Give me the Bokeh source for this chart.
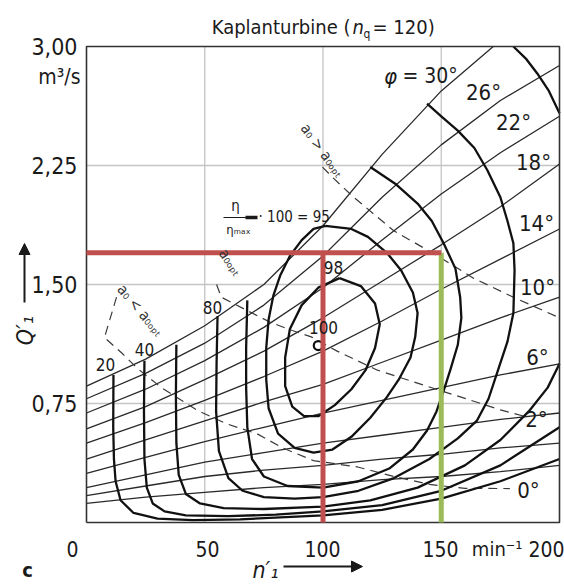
import math
from bokeh.plotting import figure
from bokeh.models import Label, Arrow, NormalHead, Range1d
from bokeh.embed import file_html
from bokeh.resources import INLINE

FONT = "DejaVu Sans Condensed"

# ---------------- data ----------------
N_MIN, N_MAX = 0, 200
Q_MIN, Q_MAX = 0.0, 3.0
N_GRID = [0, 25, 50, 75, 100, 125, 150, 175, 200]

# blade-angle lines phi (thin)
PHI30_N = [0, 25, 50, 75, 100, 125, 150, 172]
PHI30_Q = [0.86, 1.03, 1.24, 1.50, 1.87, 2.32, 2.72, 3.00]
PHI26_Q = [0.78, 0.94, 1.13, 1.37, 1.68, 2.05, 2.38, 2.66, 2.88]
PHI22_Q = [0.69, 0.84, 1.02, 1.23, 1.48, 1.78, 2.07, 2.33, 2.56]
PHI18_Q = [0.59, 0.73, 0.90, 1.08, 1.29, 1.52, 1.75, 1.99, 2.26]
PHI14_Q = [0.50, 0.63, 0.77, 0.92, 1.08, 1.27, 1.47, 1.66, 1.85]
PHI10_Q = [0.40, 0.52, 0.64, 0.76, 0.87, 1.01, 1.15, 1.29, 1.42]
PHI6_Q = [0.31, 0.41, 0.51, 0.60, 0.69, 0.77, 0.85, 0.93, 1.00]
PHI2_Q = [0.22, 0.30, 0.38, 0.44, 0.50, 0.55, 0.60, 0.65, 0.69]
PHI0_Q = [0.17, 0.23, 0.29, 0.33, 0.36, 0.40, 0.43, 0.47, 0.50]
PHIM_Q = [0.12, 0.16, 0.19, 0.22, 0.24, 0.27, 0.29, 0.32, 0.36]

# relative efficiency contours (thick)
ETA98_N = [107, 116, 122, 124, 122, 118, 112, 105, 98, 92, 87, 84, 84, 86, 91, 98, 107]
ETA98_Q = [1.54, 1.49, 1.38, 1.25, 1.10, 0.96, 0.84, 0.74, 0.67, 0.67, 0.73, 0.86, 1.04, 1.22, 1.37, 1.48, 1.54]

ETA95_N = [101, 112, 119, 127, 133, 138, 140, 139, 137, 132, 127, 120, 112, 104, 96, 88, 81, 77, 76, 76, 77, 79, 82, 86, 91, 96, 101]
ETA95_Q = [1.87, 1.85, 1.80, 1.70, 1.59, 1.45, 1.32, 1.17, 1.04, 0.90, 0.79, 0.66, 0.54, 0.46, 0.44, 0.47, 0.56, 0.72, 0.90, 1.10, 1.28, 1.43, 1.56, 1.68, 1.78, 1.85, 1.87]

ETA90_N = [68, 67.5, 67.5, 68, 70, 75, 85, 100, 115, 128, 138, 144, 148, 151, 154, 157, 158.5, 158, 156, 151, 146, 140, 131, 120]
ETA90_Q = [1.40, 1.10, 0.85, 0.60, 0.40, 0.29, 0.23, 0.22, 0.26, 0.34, 0.46, 0.58, 0.70, 0.83, 0.97, 1.12, 1.29, 1.42, 1.60, 1.76, 1.90, 2.01, 2.13, 2.24]

ETA80_N = [55.4, 55, 54.8, 56, 60, 66, 75, 88, 100, 115, 130, 145, 157, 165, 170, 174, 178, 180.5, 181, 180.5, 178, 175, 169.5, 164, 157, 150, 144]
ETA80_Q = [1.30, 1.00, 0.70, 0.45, 0.28, 0.20, 0.16, 0.15, 0.16, 0.20, 0.28, 0.40, 0.53, 0.64, 0.78, 0.96, 1.14, 1.32, 1.59, 1.76, 1.90, 2.05, 2.22, 2.36, 2.47, 2.56, 2.64]

ETA60_N = [38, 37.8, 38, 39, 42, 48, 58, 75, 100, 120, 140, 160, 175, 187, 195, 200]
ETA60_Q = [1.12, 0.80, 0.50, 0.30, 0.18, 0.12, 0.09, 0.085, 0.10, 0.14, 0.22, 0.36, 0.52, 0.70, 0.85, 1.00]
ETA60B_N = [180.5, 186, 190.6, 195.5, 200]
ETA60B_Q = [3.00, 2.92, 2.83, 2.72, 2.58]

ETA40_N = [24.5, 24.3, 24.5, 25.5, 28, 33, 42, 60, 80, 100, 125, 150, 175, 200]
ETA40_Q = [1.02, 0.70, 0.40, 0.22, 0.12, 0.07, 0.045, 0.04, 0.05, 0.07, 0.11, 0.20, 0.36, 0.60]

ETA20_N = [11.4, 11.3, 11.6, 12.3, 14.4, 19.9, 30, 45, 65, 100, 125, 150, 175, 200]
ETA20_Q = [0.93, 0.60, 0.40, 0.26, 0.14, 0.06, 0.025, 0.015, 0.02, 0.045, 0.08, 0.15, 0.26, 0.40]

ETA_MAX_N = [98]
ETA_MAX_Q = [1.115]

# guide-vane opening lines (dashed)
A0_GT_N = [99.8, 104.4, 113, 129.8, 149.6, 163.6, 180.5, 200]
A0_GT_Q = [2.24, 2.17, 2.05, 1.84, 1.67, 1.54, 1.42, 1.29]
A0_OPT_N = [55, 57, 70, 78, 87, 95, 106, 123, 150, 175, 185]
A0_OPT_Q = [1.50, 1.42, 1.32, 1.26, 1.21, 1.17, 1.08, 0.96, 0.83, 0.71, 0.67]
A0_LT_N = [12.7, 7.6, 14.8, 21.6, 31.7, 47, 59.6, 72, 83, 96, 114.6, 130, 145, 160, 179]
A0_LT_Q = [1.42, 1.166, 1.07, 0.97, 0.85, 0.705, 0.62, 0.56, 0.47, 0.39, 0.35, 0.29, 0.24, 0.215, 0.214]

# operating point lines
OP_Q = 1.70
OP_N_RED = 100
OP_N_GREEN = 150

X_TICKS = [0, 50, 100, 150, 200]
X_TICK_LABELS = ["0", "50", "100", "150", "200"]
Y_TICKS = [0.75, 1.50, 2.25, 3.00]
Y_TICK_LABELS = ["0,75", "1,50", "2,25", "3,00"]
PHI_LABELS = ["26°", "22°", "18°", "14°", "10°", "6°", "2°", "0°"]
ETA_LABELS = ["20", "40", "80", "98", "100"]


# page pixel -> data helpers (used only to place texts)
def PX(x):
    return (x - 86) / 2.365


def PY(y):
    return (522 - y) / 158.67


# ---------------- figure ----------------
p = figure(width=564, height=586, x_range=Range1d(PX(0), PX(564)), y_range=Range1d(PY(586), PY(0)),
           output_backend="svg", toolbar_location=None, title=None,
           min_border_left=0, min_border_right=0, min_border_top=0, min_border_bottom=0)
p.xaxis.visible = False
p.yaxis.visible = False
p.xgrid.visible = False
p.ygrid.visible = False
p.outline_line_color = None
p.background_fill_color = "white"
p.border_fill_color = "white"

THIN = "#2a2a2a"
THICK = "#111111"
TXT = "#1a1a1a"

# grid
gx = [t for t in X_TICKS if N_MIN < t < N_MAX]
gy = [t for t in Y_TICKS if Q_MIN < t < Q_MAX]
p.multi_line([[t, t] for t in gx] + [[N_MIN, N_MAX] for _ in gy],
             [[Q_MIN, Q_MAX] for _ in gx] + [[t, t] for t in gy],
             line_color="#c4c4c4", line_width=1.3)

# phi lines
phi_sets = [(PHI30_N, PHI30_Q), (N_GRID, PHI26_Q), (N_GRID, PHI22_Q), (N_GRID, PHI18_Q),
            (N_GRID, PHI14_Q), (N_GRID, PHI10_Q), (N_GRID, PHI6_Q), (N_GRID, PHI2_Q),
            (N_GRID, PHI0_Q), (N_GRID, PHIM_Q)]
p.multi_line([s[0] for s in phi_sets], [s[1] for s in phi_sets], line_color=THIN, line_width=1.3)

# dashed opening lines
p.multi_line([A0_GT_N, A0_OPT_N, A0_LT_N], [A0_GT_Q, A0_OPT_Q, A0_LT_Q],
             line_color="#3a3a3a", line_width=1.2, line_dash="9 6")

# efficiency contours
eta_sets = [(ETA98_N, ETA98_Q), (ETA95_N, ETA95_Q), (ETA90_N, ETA90_Q), (ETA80_N, ETA80_Q),
            (ETA60_N, ETA60_Q), (ETA60B_N, ETA60B_Q), (ETA40_N, ETA40_Q), (ETA20_N, ETA20_Q)]
p.multi_line([s[0] for s in eta_sets], [s[1] for s in eta_sets], line_color=THICK,
             line_width=2.3, line_join="round")
p.scatter(ETA_MAX_N, ETA_MAX_Q, marker="circle", size=9, fill_color=None,
          line_color=THICK, line_width=2.2)

# plot frame
p.line([N_MIN, N_MAX, N_MAX, N_MIN, N_MIN], [Q_MIN, Q_MIN, Q_MAX, Q_MAX, Q_MIN],
       line_color="#333333", line_width=1.6)

# operating point lines
p.line([OP_N_GREEN, OP_N_GREEN], [Q_MIN, OP_Q], line_color="#9bbb59", line_width=5)
p.line([N_MIN, OP_N_GREEN], [OP_Q, OP_Q], line_color="#c0504d", line_width=5)
p.line([OP_N_RED, OP_N_RED], [Q_MIN, OP_Q], line_color="#c0504d", line_width=5)


def lab(text, x, y, size, align="center", baseline="middle", angle=0.0, style="normal",
        font=FONT, color=TXT):
    p.add_layout(Label(x=x, y=y, text=text, text_font=font, text_font_size=size,
                       text_align=align, text_baseline=baseline, angle=angle,
                       text_font_style=style, text_color=color))


# tick labels
x_label_px = [72, 207, 322, 440, 546]
for s, xp in zip(X_TICK_LABELS, x_label_px):
    lab(s, PX(xp), PY(548), "21px")
lab("min⁻¹", PX(522), PY(548), "20px", align="right")
for t, s in zip(Y_TICKS, Y_TICK_LABELS):
    lab(s, PX(77), t, "23px", align="right")
lab("m³/s", PX(80), PY(76), "21px", align="right")

# title
lab("Kaplanturbine (", PX(350), PY(26), "20px", align="right")
lab("n", PX(352), PY(26), "20px", align="left", style="italic")
lab("q", PX(363), PY(33), "12px", align="left")
lab("= 120)", PX(372), PY(26), "20px", align="left")

# axis titles
lab("Q′₁", PX(24), PY(330), "23px", angle=math.pi / 2, style="italic")
p.add_layout(Arrow(end=NormalHead(size=11, fill_color=TXT, line_color=TXT),
                   x_start=PX(24), y_start=PY(302), x_end=PX(24), y_end=PY(243),
                   line_color=TXT, line_width=2))
lab("n′₁", PX(265), PY(569), "23px", style="italic")
p.add_layout(Arrow(end=NormalHead(size=11, fill_color=TXT, line_color=TXT),
                   x_start=PX(283), y_start=PY(566), x_end=PX(362), y_end=PY(566),
                   line_color=TXT, line_width=2))
lab("c", PX(27), PY(569), "20px", style="bold")

# phi labels
lab("φ", PX(390), PY(76), "22px", style="italic")
lab("= 30°", PX(402), PY(75), "21px", align="left")
phi_px = [(483, 92), (513, 122), (533, 162), (536, 223), (537, 287), (537, 357), (536, 419), (528, 490)]
for s, (xp, yp) in zip(PHI_LABELS, phi_px):
    lab(s, PX(xp), PY(yp), "22px")

# efficiency labels
eta_px = [(105, 364), (144, 349), (212, 307), (333, 267), (323, 327)]
for s, (xp, yp) in zip(ETA_LABELS, eta_px):
    lab(s, PX(xp), PY(yp), "17px")

# eta / eta_max * 100 = 95
lab("η", PX(235), PY(205), "15px")
lab("ηₘₐₓ", PX(238), PY(229), "13px")
p.line([PX(223), PX(247)], [PY(217), PY(217)], line_color=TXT, line_width=1.2)
p.line([PX(245), PX(257)], [PY(217), PY(217)], line_color=TXT, line_width=3.5)
lab("· 100 = 95", PX(258), PY(216), "15px", align="left")

# opening labels
lab("a₀ > a₀ₒₚₜ", PX(322), PY(150), "15px", angle=math.radians(-54), color="#333333")
lab("a₀ₒₚₜ", PX(230), PY(262), "15px", angle=math.radians(-56), color="#333333")
lab("a₀ < a₀ₒₚₜ", PX(140), PY(310), "15px", angle=math.radians(-50), color="#333333")

open("out.html", "w").write(file_html(p, INLINE))
